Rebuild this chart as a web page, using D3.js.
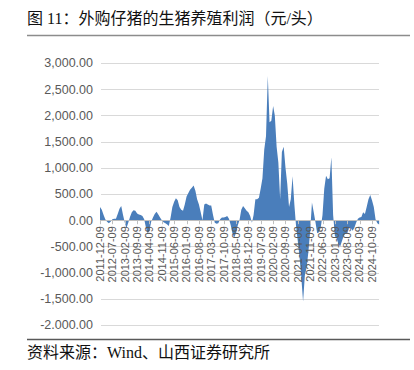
<!DOCTYPE html>
<html>
<head>
<meta charset="utf-8">
<script src="https://cdn.jsdelivr.net/npm/d3@7"></script>
<style>
body { margin: 0; background: #fff; }
</style>
</head>
<body>
<script>
'use strict';

// monthly profit, yuan per head, starting 2011-12
var firstMonth = "2011-12-09";
var profit = [
  250, 200, 100, 20, -30, -60, -30, 20, 30, 30, 120, 220,
  270, 100, -50, -150, -50, 60, 150, 190, 180, 130, 110, 100,
  80, 20, -150, -250, -200, -30, 50, 120, 160, 110, 50, 0,
  -40, -60, -80, -110, 50, 250, 350, 420, 380, 250, 200, 180,
  300, 450, 520, 580, 620, 660, 560, 400, 300, 150, 0, 300,
  320, 300, 280, 280, 100, -50, -70, -60, 20, 50, 50, 60,
  80, 30, -100, -250, -330, -250, -100, 0, 200, 270, 230, 180,
  150, 80, -50, 100, 400, 400, 430, 600, 800, 1350, 1600, 2750,
  1870, 1900, 2180, 2000, 1400, 1100, 400, 1300, 1400, 1000, 700, 250,
  400, 840, 300, -100, -400, -700, -1100, -1550, -1050, -900, -600, -200,
  340, 150, -50, -250, -230, -150, 100, 600, 850, 780, 800, 1200,
  100, -300, -350, -450, -500, -400, -300, -250, -250, -150, -150, -200,
  -150, -50, 30, 50, 60, 150, 120, 250, 400, 480, 380, 250,
  20, -60, -80
];

var tickLabels = [
  "2011-12-09", "2012-07-09", "2013-02-09", "2013-09-09", "2014-04-09",
  "2014-11-09", "2015-06-09", "2016-01-09", "2016-08-09", "2017-03-09",
  "2017-10-09", "2018-05-09", "2018-12-09", "2019-07-09", "2020-02-09",
  "2020-09-09", "2021-04-09", "2021-11-09", "2022-06-09", "2023-01-09",
  "2023-08-09", "2024-03-09", "2024-10-09"
];

var yTicks = [-2000, -1500, -1000, -500, 0, 500, 1000, 1500, 2000, 2500, 3000];

var title = "图 11：外购仔猪的生猪养殖利润（元/头）";
var source = "资料来源：Wind、山西证券研究所";

var chart = {};
chart.width = 414;
chart.height = 370;
chart.parse = d3.timeParse("%Y-%m-%d");
chart.fmt = d3.format(",.2f");

chart.data = function(){
  var start = chart.parse(firstMonth);
  return profit.map(function(v, i){
    return { date: d3.timeMonth.offset(start, i), value: v };
  });
};

chart.run = function(){
  var svg = d3.select("body").append("svg")
      .attr("width", chart.width)
      .attr("height", chart.height)
      .style("font-family", "'Liberation Sans', Arial, sans-serif");

  var data = chart.data();

  var x = d3.scaleTime()
      .domain([chart.parse(tickLabels[0]), chart.parse(tickLabels[tickLabels.length - 1])])
      .range([100, 372]);

  var y = d3.scaleLinear()
      .domain([-2000, 3000])
      .range([325, 63]);

  // header
  svg.append("text")
      .attr("x", 27).attr("y", 24)
      .style("font-family", "'Liberation Serif', 'Noto Sans CJK SC', serif")
      .style("font-size", "16px")
      .attr("fill", "#111")
      .text(title);

  svg.append("line")
      .attr("x1", 27).attr("x2", 410)
      .attr("y1", 35.5).attr("y2", 35.5)
      .attr("stroke", "#8c8c8c").attr("stroke-width", 1.5);

  svg.append("clipPath").attr("id", "cut")
      .append("rect").attr("x", 0).attr("y", 36).attr("width", 414).attr("height", 293);

  var g = svg.append("g").attr("clip-path", "url(#cut)");

  // grid
  g.selectAll(".grid")
      .data(yTicks)
      .enter().append("line")
      .attr("x1", 101).attr("x2", 379)
      .attr("y1", function(d){ return Math.round(y(d)) + 0.5; })
      .attr("y2", function(d){ return Math.round(y(d)) + 0.5; })
      .attr("stroke", "#d9d9d9");

  g.selectAll(".ylab")
      .data(yTicks)
      .enter().append("text")
      .attr("x", 93)
      .attr("y", function(d){ return y(d); })
      .attr("dy", "0.35em")
      .attr("text-anchor", "end")
      .attr("fill", "#595959")
      .style("font-size", "12.5px")
      .text(function(d){ return chart.fmt(d).replace("\u2212", "-"); });

  var area = d3.area()
      .x(function(d){ return x(d.date); })
      .y0(y(0))
      .y1(function(d){ return y(d.value); });

  g.append("path")
      .datum(data)
      .attr("d", area)
      .attr("fill", "#4a7ebb");

  // x axis
  g.append("line")
      .attr("x1", 100).attr("x2", 379)
      .attr("y1", Math.round(y(0)) + 0.5).attr("y2", Math.round(y(0)) + 0.5)
      .attr("stroke", "#bfbfbf");

  g.selectAll(".tick")
      .data(tickLabels)
      .enter().append("line")
      .attr("x1", function(d){ return Math.round(x(chart.parse(d))) + 0.5; })
      .attr("x2", function(d){ return Math.round(x(chart.parse(d))) + 0.5; })
      .attr("y1", y(0)).attr("y2", y(0) + 4)
      .attr("stroke", "#bfbfbf");

  g.selectAll(".xlab")
      .data(tickLabels)
      .enter().append("text")
      .attr("transform", function(d){
        return "translate(" + x(chart.parse(d)) + "," + (y(0) + 6) + ") rotate(-90)";
      })
      .attr("dy", "0.35em")
      .attr("text-anchor", "end")
      .attr("fill", "#595959")
      .style("font-size", "11px")
      .text(function(d){ return d; });

  // footer
  svg.append("line")
      .attr("x1", 27).attr("x2", 410)
      .attr("y1", 339.5).attr("y2", 339.5)
      .attr("stroke", "#595959").attr("stroke-width", 1.5);

  svg.append("text")
      .attr("x", 27).attr("y", 358)
      .style("font-family", "'Liberation Serif', 'Noto Sans CJK SC', serif")
      .style("font-size", "16px")
      .attr("fill", "#111")
      .text(source);
};

window.onload = chart.run;
</script>
</body>
</html>
